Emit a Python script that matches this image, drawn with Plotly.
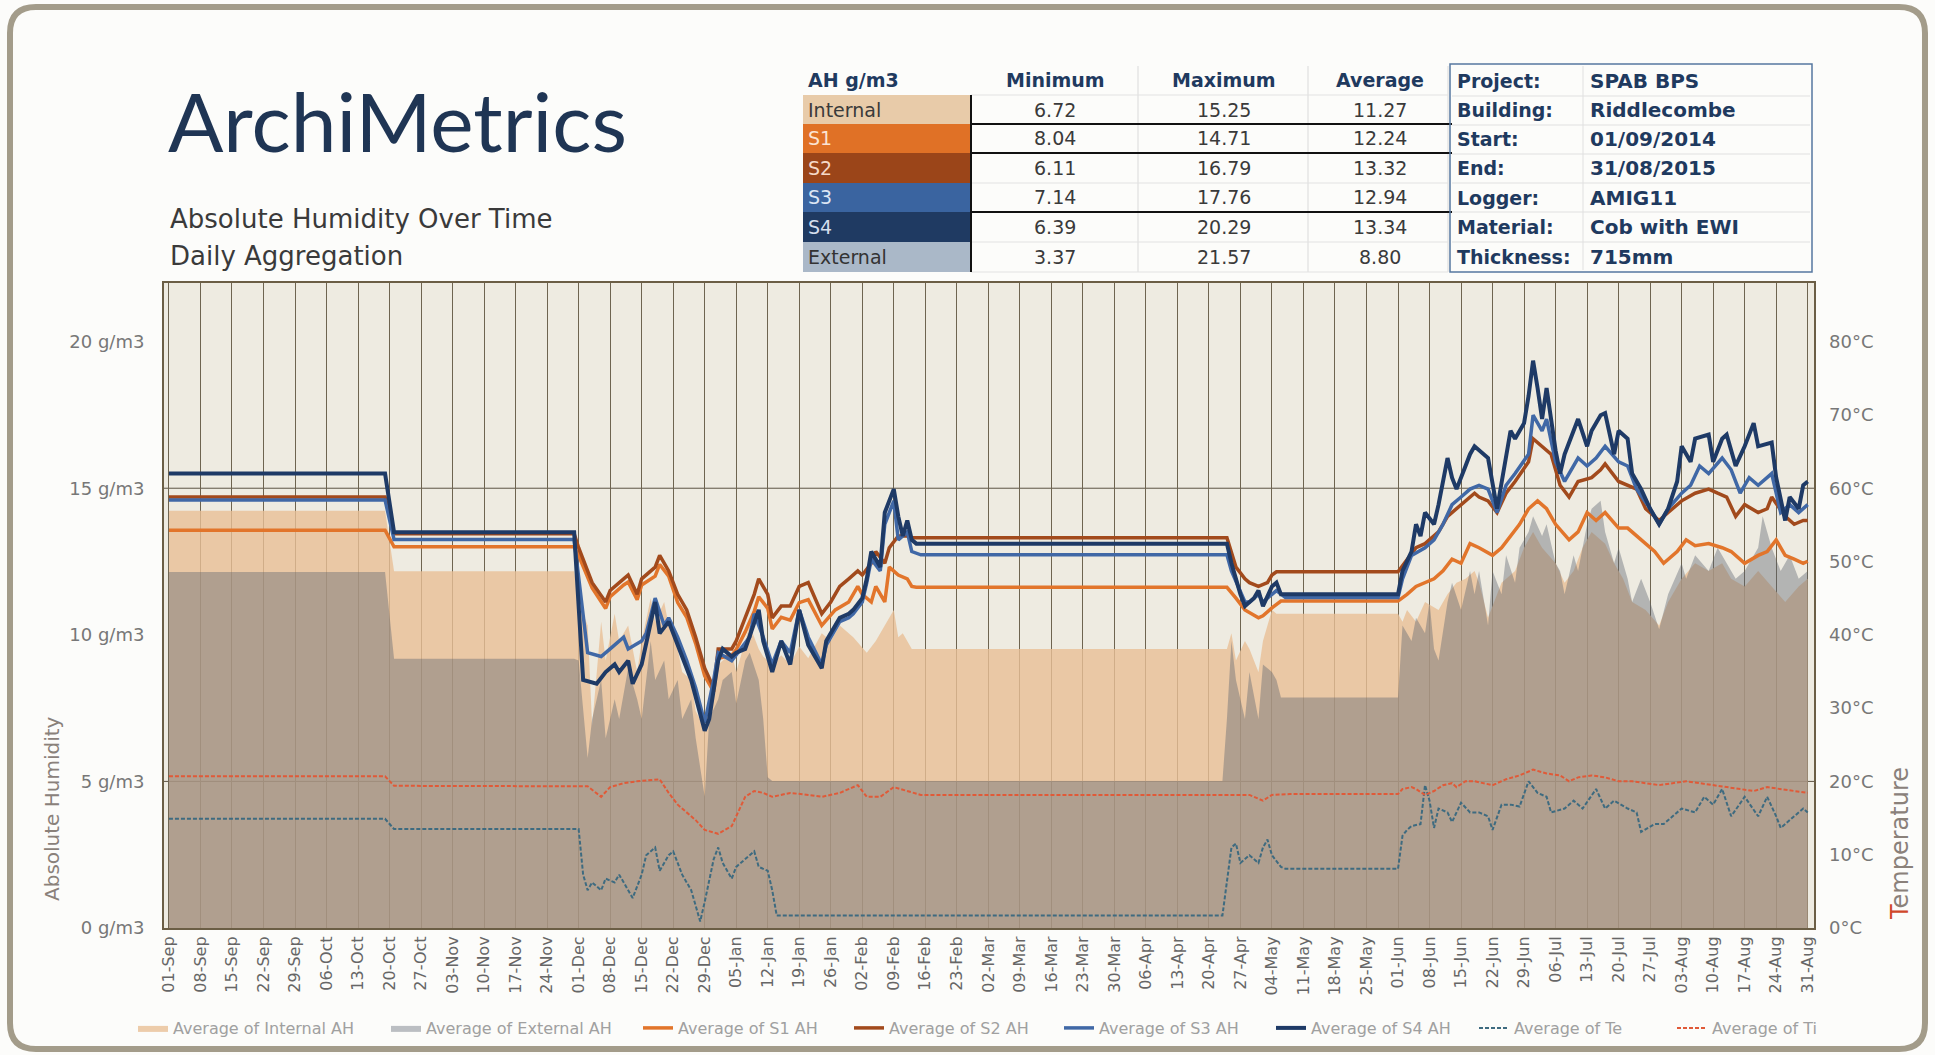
import pandas as pd
import plotly.graph_objects as go

START = pd.Timestamp("2014-09-01")

# ---------------- data: (day offset from 01-Sep-2014, value) ----------------
INTERNAL_AH = [(0,14.23),(48,14.23),(50,12.17),(90,12.17),
 (91,11.12),(93,10.32),(94,6.9),(96,10.45),(97,9.12),(99,10.72),(100,9.79),(102,10.32),(104,8.73),(105,9.79),
 (107,11.25),(108,10.45),(110,11.12),(111,10.32),(113,9.52),(114,8.73),(116,8.46),(117,7.4),(119,6.8),(120,7.80),
 (122,8.99),(123,9.12),(125,9.39),(126,8.73),(128,9.79),(129,10.32),(131,9.52),(132,9.26),(134,8.99),(136,9.3),
 (138,9.0),(140,9.6),(142,9.2),(145,10.05),(147,9.79),(149,10.32),(152,9.92),(155,9.39),(157,9.79),(159,10.32),
 (161,10.85),(162,9.92),(163,10.05),(165,9.52),(235,9.52),(236,10.05),(237,9.12),(239,9.79),(240,9.52),(242,8.73),
 (243,9.79),(245,10.85),(246,10.72),(273,10.72),(274,10.45),(275,10.85),(277,10.45),(279,11.12),(282,10.85),
 (284,11.38),(286,11.78),(288,11.91),(290,12.18),(291,11.78),(293,10.58),(296,11.78),(299,12.18),(301,12.97),
 (303,13.51),(305,12.97),(308,12.44),(310,11.78),(312,12.18),(314,12.97),(316,13.51),(319,13.11),(321,12.44),
 (323,11.91),(325,11.12),(328,10.85),(331,10.32),(333,11.12),(336,11.91),(339,12.44),(342,12.18),(345,12.44),
 (347,11.91),(350,11.65),(353,12.18),(356,11.65),(359,11.12),(362,11.65),(364,11.91)]

EXTERNAL_AH = [(0,12.14),(48,12.14),(50,9.18),(90,9.18),
 (91,9.12),(93,5.80),(94,7.13),(96,8.46),(97,6.47),(99,7.80),(100,7.13),(102,8.86),(104,7.80),(105,7.13),
 (107,9.79),(108,8.46),(110,9.12),(111,7.80),(113,8.46),(114,7.13),(116,7.80),(117,6.47),(119,4.48),(120,7.13),
 (122,7.80),(123,8.46),(125,8.73),(126,7.66),(128,9.12),(129,9.39),(131,8.46),(132,7.13),(133,5.14),(134,5.01),
 (234,5.01),(235,7.13),(236,9.79),(237,8.46),(239,7.13),(240,8.73),(242,7.13),(243,8.99),(245,8.73),(246,8.46),
 (247,7.86),(273,7.86),(274,10.32),(276,9.79),(277,10.58),(279,10.05),(280,11.12),(281,9.52),(282,9.12),
 (284,11.12),(285,11.78),(287,10.85),(289,12.18),(290,11.38),(291,12.18),(293,10.32),(294,12.18),(296,11.38),
 (297,12.71),(299,11.78),(300,12.97),(302,13.51),(303,14.04),(305,13.37),(306,13.77),(308,12.44),(309,12.18),
 (310,11.38),(312,12.71),(313,12.18),(315,13.77),(316,14.30),(318,14.57),(319,13.51),(321,12.44),(322,12.97),
 (324,11.91),(325,11.12),(327,11.91),(329,11.12),(331,10.19),(333,11.38),(336,12.44),(337,11.91),(339,12.71),
 (342,12.18),(344,12.97),(346,12.44),(348,11.91),(350,12.18),(353,12.97),(354,14.04),(356,12.97),(358,12.18),
 (360,12.71),(362,11.91),(364,12.18)]

S1_AH = [(0,13.57),(48,13.57),(50,13.0),(90,13.0),
 (91,12.7),(94,11.6),(97,10.9),(98,11.3),(101,11.7),(102,11.8),(104,11.2),(105,11.7),(108,12.0),(109,12.4),
 (111,12.0),(113,11.1),(115,10.6),(117,9.7),(119,8.6),(121,8.06),(122,9.2),(125,9.3),(126,9.5),(128,10.1),
 (130,10.8),(131,11.3),(133,10.9),(134,10.2),(136,10.6),(138,10.5),(140,11.1),(142,11.2),(145,10.32),(148,10.85),
 (151,11.12),(153,11.65),(154,11.38),(156,11.12),(157,11.65),(159,11.12),(160,12.31),(162,12.04),(164,11.91),
 (165,11.65),(166,11.62),(235,11.62),(237,11.25),(239,10.85),(242,10.58),(243,10.65),(245,10.92),(247,11.15),
 (273,11.15),(275,11.38),(277,11.65),(279,11.78),(281,11.91),(283,12.18),(285,12.58),(287,12.44),(289,13.11),
 (291,12.97),(294,12.71),(296,12.97),(298,13.37),(300,13.77),(302,14.30),(304,14.57),(306,14.30),(308,13.77),
 (311,13.24),(313,13.51),(315,14.17),(317,13.90),(319,14.17),(322,13.64),(324,13.64),(326,13.37),(328,13.11),
 (330,12.84),(332,12.44),(335,12.84),(337,13.24),(339,13.04),(342,13.11),(345,12.97),(347,12.84),(350,12.44),
 (353,12.71),(355,12.84),(357,13.24),(359,12.71),(361,12.58),(363,12.44),(364,12.51)]

S2_AH = [(0,14.7),(48,14.7),(50,13.45),(90,13.45),
 (91,12.97),(94,11.78),(97,11.12),(98,11.51),(101,11.91),(102,12.04),(104,11.38),(105,11.91),(108,12.31),
 (109,12.71),(111,12.18),(113,11.38),(115,10.85),(117,9.92),(119,8.86),(121,8.19),(122,9.52),(125,9.52),
 (126,9.79),(128,10.58),(130,11.38),(131,11.91),(133,11.38),(134,10.58),(136,10.98),(138,10.98),(140,11.65),
 (142,11.78),(145,10.72),(147,11.12),(149,11.65),(151,11.91),(153,12.18),(154,12.04),(156,12.44),(157,12.84),
 (159,12.44),(160,12.97),(162,13.37),(164,13.37),(165,13.31),(235,13.31),(236,12.84),(237,12.31),(239,11.91),
 (240,11.78),(242,11.65),(244,11.78),(245,12.04),(246,12.15),(273,12.15),(275,12.58),(277,12.97),(279,13.11),
 (282,13.51),(284,14.04),(286,14.30),(288,14.57),(290,14.83),(291,14.70),(293,14.57),(295,14.17),(297,14.83),
 (299,15.23),(302,15.90),(303,16.69),(305,16.43),(307,16.16),(309,15.10),(311,14.70),(313,15.23),(316,15.36),
 (318,15.63),(319,15.83),(322,15.23),(324,15.10),(326,14.97),(328,14.30),(331,13.90),(333,14.17),(336,14.57),
 (339,14.83),(342,14.97),(344,14.83),(346,14.70),(348,14.04),(350,14.44),(353,14.17),(355,14.30),(356,14.70),
 (359,14.04),(361,13.77),(363,13.90),(364,13.90)]

S3_AH = [(0,14.6),(48,14.6),(50,13.25),(90,13.25),
 (93,9.39),(96,9.26),(98,9.52),(101,9.92),(102,9.52),(105,9.79),(106,10.05),(108,11.25),(110,10.32),(111,10.58),
 (113,9.92),(115,9.12),(117,8.19),(119,7.00),(121,8.46),(122,9.39),(125,9.12),(127,9.52),(129,9.92),(130,10.72),
 (132,9.92),(134,8.99),(136,9.79),(138,9.39),(140,10.85),(142,9.92),(145,8.99),(146,9.65),(148,10.19),(149,10.45),
 (151,10.58),(152,10.72),(154,11.12),(155,11.78),(156,12.58),(158,12.18),(159,13.77),(161,14.57),(162,13.24),
 (164,13.51),(165,12.84),(167,12.73),(235,12.73),(236,12.18),(239,11.12),(240,11.12),(242,11.38),(243,11.12),
 (245,11.38),(246,11.51),(248,11.27),(273,11.27),(274,11.91),(276,12.71),(279,12.97),(281,13.24),(283,13.77),
 (285,14.44),(287,14.70),(289,14.97),(291,15.10),(293,14.97),(295,14.17),(297,15.10),(299,15.50),(302,16.16),
 (303,17.49),(305,16.96),(306,17.36),(308,15.90),(310,15.23),(313,16.03),(315,15.76),(317,16.03),(319,16.43),
 (322,15.90),(324,15.76),(326,14.97),(329,14.30),(331,13.77),(333,14.30),(336,14.83),(338,15.10),(340,15.76),
 (342,15.50),(345,16.03),(347,15.63),(349,14.83),(351,15.36),(353,15.10),(356,15.50),(358,14.17),(360,14.44),
 (362,14.17),(364,14.44)]

S4_AH = [(0,15.5),(48,15.5),(50,13.5),(90,13.5),
 (92,8.46),(95,8.33),(97,8.73),(99,8.99),(100,8.73),(102,9.12),(103,8.33),(105,8.99),(108,11.12),(109,10.05),
 (111,10.45),(113,9.65),(116,8.46),(119,6.73),(120,7.13),(122,9.12),(123,9.52),(125,9.26),(126,9.39),(128,9.52),
 (131,10.85),(132,9.79),(134,8.73),(136,9.79),(138,8.99),(140,10.85),(142,9.65),(145,8.86),(146,9.79),(148,10.32),
 (149,10.58),(151,10.72),(152,10.85),(154,11.25),(155,11.91),(156,12.84),(158,12.31),(159,14.17),(161,14.97),
 (162,14.04),(163,13.37),(164,13.90),(165,13.24),(166,13.11),(235,13.11),(236,12.44),(238,11.38),(239,10.98),
 (241,11.25),(242,11.51),(243,10.98),(245,11.65),(246,11.78),(247,11.38),(273,11.38),(274,12.18),(276,12.84),
 (277,13.77),(278,13.37),(279,14.17),(281,13.77),(282,14.44),(284,16.03),(285,15.36),(286,14.97),(288,15.76),
 (289,16.16),(290,16.43),(291,16.29),(293,16.03),(295,14.30),(296,15.23),(298,16.96),(299,16.69),(301,17.22),
 (302,18.15),(303,19.35),(304,18.42),(305,17.36),(306,18.42),(308,16.29),(309,15.50),(310,16.16),(312,16.96),
 (313,17.36),(315,16.43),(316,16.96),(318,17.49),(319,17.56),(321,16.16),(322,16.96),(324,16.69),(325,15.50),
 (327,14.97),(329,14.30),(331,13.77),(333,14.30),(335,15.23),(336,16.43),(338,15.90),(339,16.69),(342,16.83),
 (343,15.90),(345,16.69),(346,16.83),(348,15.76),(350,16.43),(352,17.22),(353,16.43),(356,16.56),(357,15.36),
 (359,13.90),(360,14.70),(362,14.30),(363,15.10),(364,15.23)]

TE_C = [(0,14.9),(48,14.9),(50,13.5),(91,13.49),(92,7.28),(93,5.15),(94,6.21),(96,5.15),(97,6.74),(99,6.21),
 (100,7.28),(102,5.15),(103,4.09),(105,7.28),(106,9.93),(108,10.99),(109,7.81),(111,9.93),(112,10.46),(114,7.28),
 (116,5.15),(117,3.03),(118,0.90),(119,3.56),(121,9.40),(122,10.99),(123,8.87),(125,6.74),(126,8.34),(128,9.40),
 (130,10.46),(131,8.34),(133,7.81),(134,5.15),(135,1.70),(234,1.70),(235,6.21),(236,10.99),(237,11.52),(238,8.87),
 (239,9.40),(240,9.93),(242,8.87),(243,10.99),(244,12.06),(245,9.93),(247,8.34),(248,8.07),(273,8.07),(274,12.59),
 (275,13.38),(276,13.91),(278,14.18),(279,19.49),(280,17.37),(281,13.65),(282,16.30),(284,15.77),(285,14.45),
 (287,17.10),(289,15.77),(291,15.77),(293,15.24),(294,13.38),(296,16.83),(298,16.83),(300,16.57),(302,20.02),
 (304,18.43),(306,17.90),(307,15.77),(310,16.30),(312,17.37),(314,16.30),(317,18.96),(319,16.30),(321,17.37),
 (324,16.30),(326,15.77),(327,13.12),(330,14.18),(332,14.18),(334,15.24),(336,16.30),(339,15.77),(341,17.90),
 (343,16.83),(345,18.96),(347,15.24),(350,17.90),(353,15.24),(355,17.90),(357,15.24),(358,13.65),(361,15.24),
 (363,16.30),(364,15.77)]

TI_C = [(0,20.7),(48,20.7),(50,19.4),(93,19.33),(96,17.90),(98,19.22),(101,19.76),(104,20.02),(109,20.29),
 (111,18.43),(113,16.83),(115,15.77),(117,14.71),(119,13.38),(122,12.85),(125,13.91),(126,15.24),(128,17.90),
 (130,18.69),(132,18.43),(134,17.90),(138,18.43),(142,18.16),(145,17.90),(149,18.43),(153,19.49),(155,17.90),
 (158,17.90),(161,19.22),(164,18.69),(167,18.16),(240,18.16),(243,17.37),(245,18.16),(249,18.27),(273,18.27),
 (274,18.96),(276,19.22),(277,18.96),(279,18.16),(281,18.69),(283,19.49),(285,19.76),(286,19.22),(288,20.02),
 (290,20.02),(294,19.49),(297,20.29),(300,20.82),(303,21.61),(306,21.08),(309,20.82),(311,20.02),(313,20.55),
 (316,20.82),(319,20.55),(322,20.02),(325,20.02),(328,19.76),(331,19.49),(334,19.76),(337,20.02),(340,19.76),
 (343,19.49),(346,19.22),(349,18.96),(352,18.69),(355,19.22),(358,18.96),(361,18.69),(364,18.43)]

TABLE_ROWS = ["Internal", "S1", "S2", "S3", "S4", "External"]
TABLE_MIN = ["6.72", "8.04", "6.11", "7.14", "6.39", "3.37"]
TABLE_MAX = ["15.25", "14.71", "16.79", "17.76", "20.29", "21.57"]
TABLE_AVG = ["11.27", "12.24", "13.32", "12.94", "13.34", "8.80"]
TABLE_COLS = ["Minimum", "Maximum", "Average"]

INFO_LABELS = ["Project:", "Building:", "Start:", "End:", "Logger:", "Material:", "Thickness:"]
INFO_VALUES = ["SPAB BPS", "Riddlecombe", "01/09/2014", "31/08/2015", "AMIG11", "Cob with EWI", "715mm"]

GRID_AH = [5, 15]

# ---------------- styling ----------------
FONT = "'DejaVu Sans', 'Open Sans', sans-serif"
TFONT = "Lato, 'Open Sans', sans-serif"
NAVY = "#1F3A5F"
ROW_COLORS = ["#E8CBA9", "#E07126", "#9B4519", "#3A64A0", "#1F3A62", "#AAB8C8"]
ROW_TEXT = ["#3a3a3a", "#FBE3D2", "#F5D9C8", "#DCE6F4", "#D5DEEC", "#333333"]

W, H = 1935, 1055
PL, PR, PT, PB = 164, 1814, 283, 928


def px(x):
    return (x - PL) / (PR - PL)


def py(y):
    return (PB - y) / (PB - PT)


def to_xy(pairs):
    d = [START + pd.Timedelta(days=p[0]) for p in pairs]
    v = [p[1] for p in pairs]
    return d, v


fig = go.Figure()

LEG_X = [133, 386, 638, 849, 1059, 1271, 1474, 1672]
leg_ids = ["legend"] + [f"legend{i}" for i in range(2, 9)]

series = [
    ("Average of Internal AH", INTERNAL_AH, "fill", "rgba(232,191,150,0.8)", "y"),
    ("Average of External AH", EXTERNAL_AH, "fill", "rgba(90,97,110,0.4)", "y"),
    ("Average of S1 AH", S1_AH, "line", "#E2752B", "y"),
    ("Average of S2 AH", S2_AH, "line", "#A24A1C", "y"),
    ("Average of S3 AH", S3_AH, "line", "#4068A6", "y"),
    ("Average of S4 AH", S4_AH, "line", "#1E3A66", "y"),
    ("Average of Te", TE_C, "dash", "#3E6B80", "y2"),
    ("Average of Ti", TI_C, "dash", "#E05A38", "y2"),
]

for i, (name, data, kind, color, ax) in enumerate(series):
    x, y = to_xy(data)
    if kind == "fill":
        fig.add_trace(go.Scatter(x=x, y=y, name=name, mode="lines", fill="tozeroy",
                                 fillcolor=color, line=dict(width=0, color=color),
                                 yaxis=ax, legend=leg_ids[i]))
    elif kind == "line":
        fig.add_trace(go.Scatter(x=x, y=y, name=name, mode="lines",
                                 line=dict(width=4 if i == 5 else 3.5, color=color),
                                 yaxis=ax, legend=leg_ids[i]))
    else:
        fig.add_trace(go.Scatter(x=x, y=y, name=name, mode="lines",
                                 line=dict(width=2, color=color, dash="4px,2px"),
                                 yaxis=ax, legend=leg_ids[i]))

legends = {}
for i, lid in enumerate(leg_ids):
    legends[lid] = dict(x=px(LEG_X[i]), y=py(1028), xanchor="left", yanchor="middle",
                        orientation="h", bgcolor="rgba(0,0,0,0)", itemwidth=30,
                        font=dict(family=FONT, size=16, color="#a0a0a0"))

shapes = []
for g in GRID_AH:
    shapes.append(dict(type="line", xref="paper", yref="y", x0=0, x1=1, y0=g, y1=g,
                       line=dict(color="#5E5444", width=1), layer="below"))

# outer rounded frame
def P(x, y):
    return f"{px(x):.5f},{py(y):.5f}"

L_, T_, R_, B_, r = 10, 7, 1925, 1049, 26
path = (f"M {P(L_+r,T_)} L {P(R_-r,T_)} Q {P(R_,T_)} {P(R_,T_+r)} L {P(R_,B_-r)} "
        f"Q {P(R_,B_)} {P(R_-r,B_)} L {P(L_+r,B_)} Q {P(L_,B_)} {P(L_,B_-r)} "
        f"L {P(L_,T_+r)} Q {P(L_,T_)} {P(L_+r,T_)} Z")
shapes.append(dict(type="path", xref="paper", yref="paper", path=path,
                   line=dict(color="#A39C8A", width=6), layer="below"))

annotations = []
annotations.append(dict(text="ArchiMetrics", x=px(166), y=py(120), xref="paper", yref="paper",
                        xanchor="left", yanchor="middle", showarrow=False,
                        font=dict(family=TFONT, size=82, color="#1F3554")))
annotations.append(dict(text="Absolute Humidity Over Time", x=px(168), y=py(219), xref="paper", yref="paper",
                        xanchor="left", yanchor="middle", showarrow=False,
                        font=dict(family=FONT, size=26, color="#3a3a3a")))
annotations.append(dict(text="Daily Aggregation", x=px(168), y=py(256), xref="paper", yref="paper",
                        xanchor="left", yanchor="middle", showarrow=False,
                        font=dict(family=FONT, size=26, color="#3a3a3a")))
annotations.append(dict(text="Absolute Humidity", x=px(52), y=py(808), xref="paper", yref="paper",
                        textangle=-90, showarrow=False, xanchor="center", yanchor="middle",
                        font=dict(family=FONT, size=20, color="#8a817a")))
annotations.append(dict(text="<span style='color:#D0482A'>T</span>emperature", x=px(1900), y=py(843),
                        xref="paper", yref="paper", textangle=-90, showarrow=False,
                        xanchor="center", yanchor="middle",
                        font=dict(family=FONT, size=24, color="#8a817a")))

# ---- stats table ----
COL_X = [803, 971, 1138, 1308, 1448]
COL_C = [1055, 1224, 1380]
ROW_B = [66, 95, 124, 153, 183, 212, 242, 272]
annotations.append(dict(text="<b>AH g/m3</b>", x=px(806), y=py(80), xref="paper", yref="paper",
                        xanchor="left", yanchor="middle", showarrow=False,
                        font=dict(family=FONT, size=19, color=NAVY)))
for c, name in enumerate(TABLE_COLS):
    annotations.append(dict(text=f"<b>{name}</b>", x=px(COL_C[c]), y=py(80), xref="paper", yref="paper",
                            xanchor="center", yanchor="middle", showarrow=False,
                            font=dict(family=FONT, size=19, color=NAVY)))
for r_i, row in enumerate(TABLE_ROWS):
    y0, y1 = ROW_B[r_i + 1], ROW_B[r_i + 2]
    yc = (y0 + y1) / 2
    shapes.append(dict(type="rect", xref="paper", yref="paper", x0=px(803), x1=px(971),
                       y0=py(y1), y1=py(y0), fillcolor=ROW_COLORS[r_i], line=dict(width=0)))
    annotations.append(dict(text=row, x=px(806), y=py(yc), xref="paper", yref="paper",
                            xanchor="left", yanchor="middle", showarrow=False,
                            font=dict(family=FONT, size=19, color=ROW_TEXT[r_i])))
    for c, vals in enumerate([TABLE_MIN, TABLE_MAX, TABLE_AVG]):
        annotations.append(dict(text=vals[r_i], x=px(COL_C[c]), y=py(yc), xref="paper", yref="paper",
                                xanchor="center", yanchor="middle", showarrow=False,
                                font=dict(family=FONT, size=19, color="#3a3a3a")))
for xv in COL_X[2:]:
    shapes.append(dict(type="line", xref="paper", yref="paper", x0=px(xv), x1=px(xv),
                       y0=py(ROW_B[0]), y1=py(ROW_B[-1]), line=dict(color="#DADADA", width=1)))
for yv in ROW_B[1:]:
    shapes.append(dict(type="line", xref="paper", yref="paper", x0=px(971), x1=px(1448),
                       y0=py(yv), y1=py(yv), line=dict(color="#E2E2E2", width=1)))
for yv in [124, 153, 212]:
    shapes.append(dict(type="line", xref="paper", yref="paper", x0=px(971), x1=px(1452),
                       y0=py(yv), y1=py(yv), line=dict(color="#111111", width=2)))
shapes.append(dict(type="line", xref="paper", yref="paper", x0=px(971), x1=px(971),
                   y0=py(95), y1=py(272), line=dict(color="#111111", width=2)))

# ---- info box ----
INFO_Y = [81, 110, 139, 168, 198, 227, 257]
shapes.append(dict(type="rect", xref="paper", yref="paper", x0=px(1450), x1=px(1812),
                   y0=py(272), y1=py(64), line=dict(color="#5577A0", width=1.5)))
for yv in [96, 125, 154, 183, 212, 242]:
    shapes.append(dict(type="line", xref="paper", yref="paper", x0=px(1452), x1=px(1810),
                       y0=py(yv), y1=py(yv), line=dict(color="#E0E0E0", width=1)))
shapes.append(dict(type="line", xref="paper", yref="paper", x0=px(1583), x1=px(1583),
                   y0=py(66), y1=py(270), line=dict(color="#E0E0E0", width=1)))
for i, (lab, val) in enumerate(zip(INFO_LABELS, INFO_VALUES)):
    annotations.append(dict(text=f"<b>{lab}</b>", x=px(1455), y=py(INFO_Y[i]), xref="paper", yref="paper",
                            xanchor="left", yanchor="middle", showarrow=False,
                            font=dict(family=FONT, size=19, color=NAVY)))
    annotations.append(dict(text=f"<b>{val}</b>", x=px(1588), y=py(INFO_Y[i]), xref="paper", yref="paper",
                            xanchor="left", yanchor="middle", showarrow=False,
                            font=dict(family=FONT, size=20, color=NAVY)))

AXLINE = "#6B5E45"
fig.update_layout(
    width=W, height=H, autosize=False,
    margin=dict(l=PL, r=W - PR, t=PT, b=H - PB, autoexpand=False),
    paper_bgcolor="#FCFCFA", plot_bgcolor="#EEEBE1",
    font=dict(family=FONT, color="#666"),
    showlegend=True,
    xaxis=dict(type="date",
               range=[START - pd.Timedelta(days=1.1), START + pd.Timedelta(days=365.4)],
               tick0=START, dtick=7 * 86400000, tickformat="%d-%b", tickangle=-90,
               showgrid=True, gridcolor="#6E6450", gridwidth=1,
               showline=True, linecolor=AXLINE, linewidth=2, mirror=True,
               ticks="", zeroline=False,
               tickfont=dict(family=FONT, size=16, color="#666")),
    yaxis=dict(range=[0, 22], dtick=5, ticksuffix=" g/m3", showgrid=False,
               showline=True, linecolor=AXLINE, linewidth=2, mirror=True,
               ticks="", zeroline=False, ticklabelstandoff=14,
               tickfont=dict(family=FONT, size=18, color="#777")),
    yaxis2=dict(range=[0, 88], dtick=10, ticksuffix="°C", overlaying="y", side="right",
                showgrid=False, showline=False, zeroline=False, ticks="", ticklabelstandoff=14,
                tickfont=dict(family=FONT, size=18, color="#777")),
    shapes=shapes,
    annotations=annotations,
    **legends,
)

fig.write_html("out.html", config={"displayModeBar": False},
               post_script="document.body.style.margin='0px';document.body.style.overflow='hidden';")
